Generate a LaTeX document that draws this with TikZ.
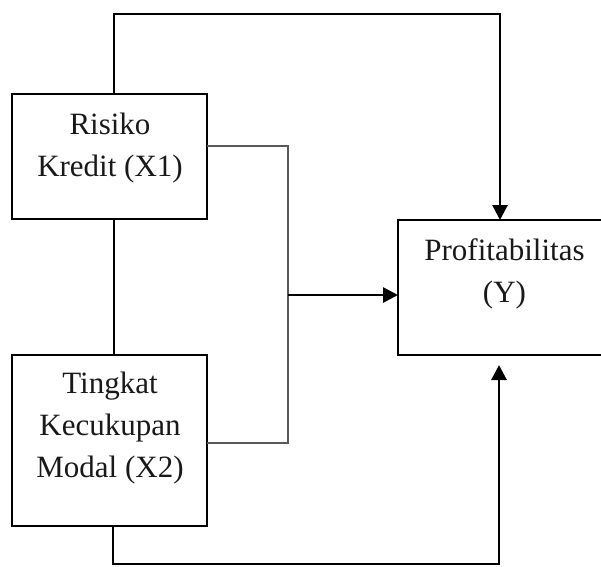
\documentclass[tikz,border=0pt]{standalone}
\usepackage{fontspec}
\setmainfont{Liberation Serif}
\usetikzlibrary{arrows.meta}
\tikzset{
  box/.style={draw=black, line width=2.8pt, inner sep=0pt, outer sep=0pt, fill=none},
  txt/.style={align=center, inner sep=0pt, font=\fontsize{31}{42}\selectfont, text=black!90},
  conn/.style={draw=black, line width=2.8pt},
  thinconn/.style={draw=black!65, line width=1.6pt},
  arr/.style={conn, -{Triangle[length=15pt, width=15pt]}}
}
\begin{document}
\begin{tikzpicture}[x=1pt, y=-1pt]
\useasboundingbox (0,0) rectangle (601,566);
% boxes
\node[box, minimum width=195pt, minimum height=125pt] (r1) at (109.5,156.5) {};
\node[box, minimum width=195pt, minimum height=171pt] (r2) at (109.5,440.5) {};
\node[box, minimum width=214pt, minimum height=135pt] (y) at (505,287.5) {};
% texts
\node[txt] (t1) at (110,148.5) {Risiko\\Kredit (X1)};
\node[txt] (t2) at (110,428.5) {Tingkat\\Kecukupan\\Modal (X2)};
\node[txt] (ty) at (504.5,274) {Profitabilitas\\(Y)};
% helper coordinates
\coordinate (tl) at (114,14);
\coordinate (tr) at (500,14);
\coordinate (bl) at (113,564);
\coordinate (br) at (499,564);
\coordinate (m1) at (288,146);
\coordinate (m2) at (288,443);
\coordinate (mj) at (288,295);
% connectors
\draw[conn] (r1.south -| tl) -- (r2.north -| tl);
\draw[arr] (r1.north -| tl) -- (tl) -- (tr) -- (y.north -| tr);
\draw[arr, shorten >=10pt] (r2.south -| bl) -- (bl) -- (br) -- (y.south -| br);
\draw[thinconn] (r1.east |- m1) -- (m1) -- (m2) -- (r2.east |- m2);
\draw[arr] (mj) -- (y.west |- mj);
\end{tikzpicture}
\end{document}
